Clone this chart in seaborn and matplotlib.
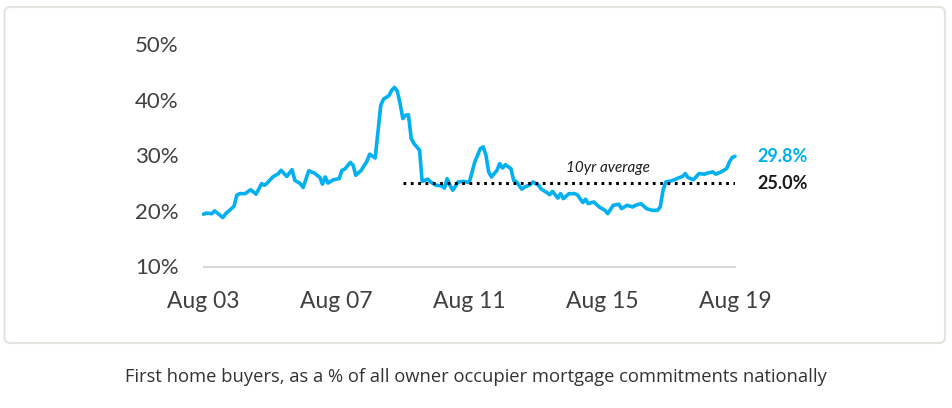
import pandas as pd
import matplotlib.pyplot as plt
import seaborn as sns
from matplotlib.patches import FancyBboxPatch
from matplotlib.transforms import IdentityTransform

# Données : part des primo-accédants (% des engagements hypothécaires)
mois = [0, 1, 3, 4, 5, 7, 8, 11, 12, 13, 15, 17, 19, 21, 22, 23, 25, 27, 28, 30,
        32, 33, 35, 36, 38, 40, 42, 43, 44, 45, 47, 49, 50, 51, 53, 54, 55, 57, 59, 60,
        62, 64, 65, 67, 68, 69, 70, 71, 72, 73, 74, 75, 76, 78, 79, 81, 82, 84, 86, 87,
        88, 89, 90, 92, 94, 96, 98, 100, 101, 102, 103, 104, 106, 107, 108, 109, 111, 112, 113, 115,
        116, 118, 119, 121, 122, 124, 125, 126, 128, 129, 130, 132, 134, 135, 137, 138, 139, 141, 143, 145,
        146, 148, 150, 151, 153, 155, 156, 158, 160, 162, 164, 165, 166, 167, 169, 171, 173, 174, 175, 177,
        179, 181, 182, 184, 185, 187, 189, 190, 191, 192]
part = [19.4, 19.6, 19.5, 20.0, 19.6, 18.8, 19.5, 20.8, 22.8, 23.1, 23.1, 23.8, 23.0, 24.9, 24.6, 25.0, 26.1, 26.7, 27.3, 26.2,
        27.4, 25.5, 24.9, 24.2, 27.2, 26.8, 26.0, 24.8, 26.1, 25.0, 25.6, 25.8, 27.3, 27.5, 28.7, 28.2, 26.4, 27.3, 28.9, 30.2,
        29.5, 39.0, 40.1, 40.7, 41.7, 42.2, 41.5, 39.3, 36.6, 37.2, 37.3, 33.0, 32.1, 30.9, 25.3, 25.7, 25.2, 24.6, 24.5, 24.1,
        25.8, 24.6, 23.7, 25.2, 25.3, 25.1, 28.8, 31.2, 31.5, 30.0, 27.0, 26.1, 27.3, 28.5, 27.7, 28.3, 27.6, 25.5, 25.2, 23.9,
        24.3, 24.7, 25.2, 24.6, 23.9, 23.3, 22.9, 23.5, 22.3, 23.1, 22.2, 23.1, 23.1, 22.9, 21.5, 22.1, 21.3, 21.6, 20.7, 20.1,
        19.5, 21.0, 21.2, 20.4, 21.0, 20.7, 21.0, 21.3, 20.4, 20.1, 20.1, 20.7, 23.7, 25.2, 25.4, 25.8, 26.2, 26.7, 26.0, 25.6,
        26.7, 26.6, 26.8, 27.0, 26.6, 27.0, 27.6, 28.8, 29.6, 29.8]
debut = "2003-08-01"
ticks_dates = ["2003-08-01", "2007-08-01", "2011-08-01", "2015-08-01", "2019-08-01"]
ticks_labels = ["Aug 03", "Aug 07", "Aug 11", "Aug 15", "Aug 19"]
y_ticks = [10, 20, 30, 40, 50]
moyenne_debut = "2009-08-01"
moyenne_fin = "2019-08-01"
moyenne = 25.0
titre = "First home buyers, as a % of all owner occupier mortgage commitments nationally"

df = pd.DataFrame({
    "date": [pd.Timestamp(debut) + pd.DateOffset(months=m) for m in mois],
    "part": part,
})
moy_df = pd.DataFrame({"date": pd.to_datetime([moyenne_debut, moyenne_fin]),
                       "part": [moyenne, moyenne]})

bleu = "#00B0F0"
gris = "#404040"

sns.set_theme(style="white")
plt.rcParams["font.family"] = ["Lato", "DejaVu Sans"]

fig = plt.figure(figsize=(9.52, 4.08), dpi=100)
ax = fig.add_axes([203.5 / 952, 1 - 266.5 / 408, (735 - 203.5) / 952, (266.5 - 44) / 408])

# Courbe principale + moyenne 10 ans
sns.lineplot(data=df, x="date", y="part", color=bleu, linewidth=2.6, ax=ax, clip_on=False)
sns.lineplot(data=moy_df, x="date", y="part", color="black", linewidth=2.2,
             linestyle=(0, (0.9, 1.5)), ax=ax)

ax.set_xlim(pd.Timestamp(ticks_dates[0]), pd.Timestamp(ticks_dates[-1]))
ax.set_ylim(y_ticks[0], y_ticks[-1])
ax.set_xticks(pd.to_datetime(ticks_dates))
ax.set_xticklabels(ticks_labels)
ax.set_yticks(y_ticks)
ax.set_yticklabels([f"{v}%" for v in y_ticks])
ax.set_xlabel("")
ax.set_ylabel("")

for s in ["top", "right", "left"]:
    ax.spines[s].set_visible(False)
ax.spines["bottom"].set_color("#d9d9d9")
ax.spines["bottom"].set_linewidth(1.5)
ax.tick_params(axis="x", direction="out", length=6, width=1.5, color="#d9d9d9",
               labelsize=16.5, labelcolor=gris, pad=12)
ax.tick_params(axis="y", length=0, labelsize=16, labelcolor=gris, pad=18)
ax.patch.set_alpha(0)

# Étiquettes à droite
ax.annotate(f"{part[-1]:.1f}%", xy=(df["date"].iloc[-1], part[-1]), xytext=(16, 0),
            textcoords="offset points", va="center", ha="left", color=bleu,
            fontsize=13, fontweight="bold", annotation_clip=False)
ax.annotate(f"{moyenne:.1f}%", xy=(pd.Timestamp(moyenne_fin), moyenne), xytext=(16, 0),
            textcoords="offset points", va="center", ha="left", color="#1a1a1a",
            fontsize=13, fontweight="bold", annotation_clip=False)
ax.text(pd.Timestamp("2015-10-01"), 27.7, "10yr average", ha="center", va="center",
        fontsize=11, fontstyle="italic", color="#1f1f1f")

# Cadre arrondi et légende sous le graphique
cadre = FancyBboxPatch((4.5, 65), 940.5, 336, boxstyle="round,pad=0,rounding_size=6",
                       transform=IdentityTransform(), facecolor="none",
                       edgecolor="#e6e2dd", linewidth=1.5)
fig.patches.append(cadre)
fig.text(0.5, 1 - 377 / 408, titre, ha="center", va="center", fontsize=13.2,
         color="#333333", family=["Open Sans", "DejaVu Sans"])

fig.savefig("out.png", dpi=100)
